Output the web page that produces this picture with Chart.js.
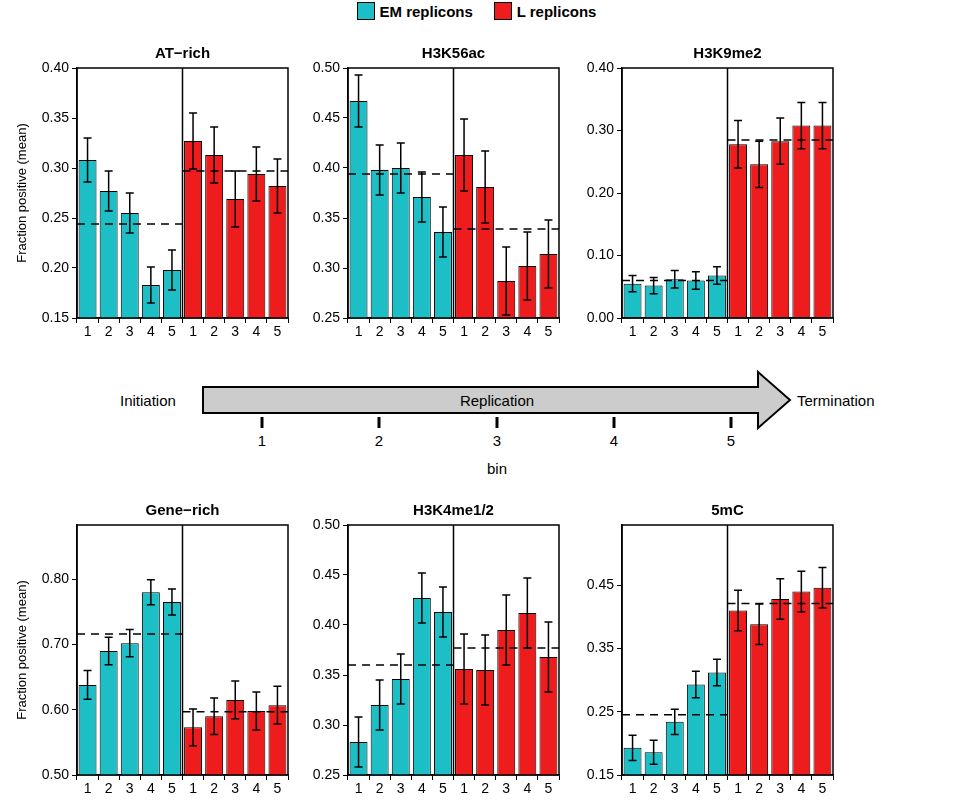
<!DOCTYPE html>
<html><head><meta charset="utf-8">
<script src="https://cdn.jsdelivr.net/npm/chart.js@4"></script>
<style>
body{margin:0;width:953px;height:800px;position:relative;background:#fff;font-family:"Liberation Sans",Arial,sans-serif;overflow:hidden}
.p{position:absolute}
#legend{position:absolute;top:0;left:0;width:953px;text-align:center;font-weight:bold;font-size:15px;top:2px}
#legend span.b{display:inline-block;width:16px;height:16px;vertical-align:-3px;margin-right:5px;border:1px solid #000}
</style></head><body>
<div id="legend"><span class="b" style="background:#1cbfc6"></span>EM replicons&nbsp;&nbsp;&nbsp;&nbsp;&nbsp;<span class="b" style="background:#ee1c1c"></span>L replicons</div>
<svg style="position:absolute;left:0;top:0" width="953" height="800" font-family="Liberation Sans, Arial, sans-serif">
<polygon points="203,387 758,387 758,372 790,400 758,428 758,413 203,413" fill="#cccccc" stroke="#000" stroke-width="2"/>
<text x="120" y="406" font-size="15" fill="#000">Initiation</text>
<text x="797" y="406" font-size="15" fill="#000">Termination</text>
<text x="497" y="406" font-size="15" text-anchor="middle" fill="#000">Replication</text>
<g stroke="#000" stroke-width="3"><line x1="262" y1="417" x2="262" y2="428"/><line x1="379" y1="417" x2="379" y2="428"/><line x1="497" y1="417" x2="497" y2="428"/><line x1="614" y1="417" x2="614" y2="428"/><line x1="731" y1="417" x2="731" y2="428"/></g>
<g font-size="15" text-anchor="middle" fill="#000"><text x="262" y="446">1</text><text x="379" y="446">2</text><text x="497" y="446">3</text><text x="614" y="446">4</text><text x="731" y="446">5</text><text x="497" y="474">bin</text></g>
</svg>
<script>
const categories=['1','2','3','4','5'];
const atRichEM=[0.308,0.277,0.255,0.183,0.198], atRichEMerr=[0.022,0.020,0.020,0.018,0.020];
const atRichL=[0.327,0.313,0.269,0.294,0.282], atRichLerr=[0.028,0.028,0.028,0.027,0.027];
const atRichMean=[0.244,0.297];
const h3k56EM=[0.467,0.398,0.400,0.371,0.336], h3k56EMerr=[0.026,0.025,0.025,0.025,0.025];
const h3k56L=[0.413,0.381,0.287,0.302,0.314], h3k56Lerr=[0.036,0.036,0.034,0.034,0.034];
const h3k56Mean=[0.394,0.339];
const h3k9EM=[0.055,0.052,0.062,0.060,0.068], h3k9EMerr=[0.013,0.013,0.014,0.014,0.014];
const h3k9L=[0.278,0.246,0.283,0.308,0.308], h3k9Lerr=[0.038,0.037,0.037,0.037,0.037];
const h3k9Mean=[0.060,0.285];
const geneEM=[0.638,0.690,0.702,0.780,0.765], geneEMerr=[0.022,0.021,0.021,0.019,0.020];
const geneL=[0.573,0.590,0.615,0.598,0.607], geneLerr=[0.028,0.028,0.029,0.029,0.029];
const geneMean=[0.716,0.597];
const h3k4EM=[0.283,0.320,0.346,0.427,0.413], h3k4EMerr=[0.025,0.025,0.025,0.025,0.025];
const h3k4L=[0.356,0.355,0.395,0.412,0.368], h3k4Lerr=[0.035,0.035,0.035,0.035,0.035];
const h3k4Mean=[0.360,0.377];
const mcEM=[0.193,0.186,0.234,0.293,0.312], mcEMerr=[0.020,0.019,0.020,0.021,0.021];
const mcL=[0.410,0.388,0.428,0.440,0.446], mcLerr=[0.032,0.032,0.032,0.032,0.032];
const mcMean=[0.245,0.421];
const panels=[
 {title:'AT\u2212rich',em:atRichEM,emE:atRichEMerr,l:atRichL,lE:atRichLerr,mean:atRichMean,min:0.15,max:0.40,step:0.05,x:77,y:68,first:true},
 {title:'H3K56ac',em:h3k56EM,emE:h3k56EMerr,l:h3k56L,lE:h3k56Lerr,mean:h3k56Mean,min:0.25,max:0.50,step:0.05,x:348,y:68},
 {title:'H3K9me2',em:h3k9EM,emE:h3k9EMerr,l:h3k9L,lE:h3k9Lerr,mean:h3k9Mean,min:0,max:0.40,step:0.1,x:622,y:68},
 {title:'Gene\u2212rich',em:geneEM,emE:geneEMerr,l:geneL,lE:geneLerr,mean:geneMean,min:0.5,max:0.883,step:0.1,x:77,y:525,first:true},
 {title:'H3K4me1/2',em:h3k4EM,emE:h3k4EMerr,l:h3k4L,lE:h3k4Lerr,mean:h3k4Mean,min:0.25,max:0.50,step:0.05,x:348,y:525},
 {title:'5mC',em:mcEM,emE:mcEMerr,l:mcL,lE:mcLerr,mean:mcMean,min:0.15,max:0.545,step:0.1,x:622,y:525}
];
const AW=62, TOP=30, XH=24, W=211, H=250;
panels.forEach(p=>{
  const d=document.createElement('div');d.className='p';
  d.style.left=(p.x-AW)+'px';d.style.top=(p.y-TOP)+'px';
  d.style.width=(AW+W+6)+'px';d.style.height=(TOP+H+XH)+'px';
  const c=document.createElement('canvas');d.appendChild(c);document.body.appendChild(d);
  const vals=p.em.concat(p.l), errs=p.emE.concat(p.lE);
  const cols=p.em.map(()=> '#1cbfc6').concat(p.l.map(()=> '#ee1c1c'));
  const deco={id:'deco',afterDatasetsDraw(ch){
    const g=ch.ctx,a=ch.chartArea,ys=ch.scales.y,meta=ch.getDatasetMeta(0);
    g.save();g.strokeStyle='#000';g.lineWidth=1.5;
    meta.data.forEach((b,i)=>{const t=ys.getPixelForValue(vals[i]+errs[i]),bo=ys.getPixelForValue(vals[i]-errs[i]);
      g.beginPath();g.moveTo(b.x,t);g.lineTo(b.x,bo);g.moveTo(b.x-4,t);g.lineTo(b.x+4,t);g.moveTo(b.x-4,bo);g.lineTo(b.x+4,bo);g.stroke();});
    const mid=(a.left+a.right)/2;
    g.setLineDash([8,6]);g.lineWidth=1.5;
    [[a.left,mid],[mid,a.right]].forEach((r,k)=>{const y=ys.getPixelForValue(p.mean[k]);g.beginPath();g.moveTo(r[0],y);g.lineTo(r[1],y);g.stroke();});
    g.setLineDash([]);g.lineWidth=1.5;
    g.beginPath();g.moveTo(mid,a.top);g.lineTo(mid,a.bottom);g.stroke();
    g.strokeRect(a.left,a.top,a.right-a.left,a.bottom-a.top);
    g.fillStyle='#000';g.font='bold 15px "Liberation Sans", Arial';g.textAlign='center';
    g.fillText(p.title,mid,a.top-10);
    g.restore();}};
  new Chart(c,{type:'bar',data:{labels:categories.concat(categories),datasets:[{data:vals,backgroundColor:cols,borderColor:'#000',borderWidth:1,barPercentage:0.85,categoryPercentage:1}]},
   options:{responsive:true,maintainAspectRatio:false,animation:false,layout:{padding:{top:TOP,right:6,left:0,bottom:0}},
    plugins:{legend:{display:false},tooltip:{enabled:false}},
    scales:{x:{grid:{display:true,drawOnChartArea:false,tickLength:5,color:'#000'},border:{color:'#000',width:1.5},ticks:{color:'#000',font:{size:14,family:'Liberation Sans'},padding:1},afterFit(s){s.height=XH;}},
     y:{min:p.min,max:p.max,grid:{drawOnChartArea:false,tickLength:5,color:'#000'},border:{color:'#000',width:1.5},
      afterBuildTicks(s){const t=[];for(let v=p.min;v<=p.max+1e-9;v+=p.step)t.push({value:+v.toFixed(3)});s.ticks=t;},
      ticks:{color:'#000',font:{size:14,family:'Liberation Sans'},callback:v=>v.toFixed(2)},
      title:{display:!!p.first,text:'Fraction positive (mean)',color:'#000',font:{size:13,family:'Liberation Sans'},padding:0},
      afterFit(s){s.width=AW;}}}},
   plugins:[deco]});
});
</script></body></html>
